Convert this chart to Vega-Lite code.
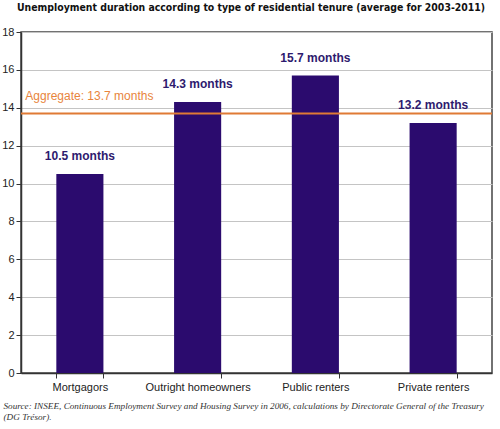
{
  "$schema": "https://vega.github.io/schema/vega-lite/v6.json",
  "autosize": {"type": "none"},
  "width": 471,
  "height": 341,
  "padding": {"left": 21, "top": 32, "right": 8, "bottom": 56},
  "background": "white",
  "title": {
    "text": "Unemployment duration according to type of residential tenure (average for 2003-2011)",
    "anchor": "start",
    "frame": "group",
    "dx": -4,
    "offset": 13,
    "font": "DejaVu Sans Condensed",
    "fontSize": 10.4,
    "fontWeight": "bold",
    "color": "#111111"
  },
  "config": {
    "view": {"stroke": "#444444", "strokeWidth": 1.5},
    "font": "Liberation Sans"
  },
  "data": {
    "values": [
      {"cat": "Mortgagors", "value": 10.5, "label": "10.5 months"},
      {"cat": "Outright homeowners", "value": 14.3, "label": "14.3 months"},
      {"cat": "Public renters", "value": 15.7, "label": "15.7 months"},
      {"cat": "Private renters", "value": 13.2, "label": "13.2 months"}
    ]
  },
  "encoding": {
    "x": {
      "field": "cat",
      "type": "nominal",
      "sort": ["Mortgagors", "Outright homeowners", "Public renters", "Private renters"],
      "scale": {"paddingInner": 0.6, "paddingOuter": 0.3},
      "axis": {
        "title": ["Source: INSEE, Continuous Employment Survey and Housing Survey in 2006, calculations by Directorate General of the Treasury", "(DG Trésor)."],
        "titleFont": "Liberation Serif",
        "titleFontStyle": "italic",
        "titleFontWeight": "normal",
        "titleFontSize": 9.2,
        "titleColor": "#333333",
        "titleAnchor": "start",
        "titleAlign": "left",
        "titleBaseline": "top",
        "titleX": -18,
        "titleY": 28,
        "titleLineHeight": 11,
        "labelAngle": 0,
        "labelFontSize": 11,
        "labelColor": "#222222",
        "labelPadding": 3,
        "tickBand": "extent",
        "tickSize": 5,
        "tickColor": "#333333",
        "domainColor": "#333333",
        "domainWidth": 1.5
      }
    },
    "y": {
      "field": "value",
      "type": "quantitative",
      "scale": {"domain": [0, 18], "nice": false},
      "axis": {
        "title": null,
        "values": [0, 2, 4, 6, 8, 10, 12, 14, 16, 18],
        "labelOverlap": false,
        "labelFontSize": 11,
        "labelColor": "#222222",
        "labelPadding": 2,
        "tickSize": 5,
        "tickColor": "#333333",
        "domainColor": "#333333",
        "domainWidth": 1.5,
        "grid": true,
        "gridColor": "#C4C4C4",
        "gridWidth": 1
      }
    }
  },
  "layer": [
    {
      "mark": {"type": "bar", "color": "#2B0B6E"}
    },
    {
      "mark": {"type": "text", "baseline": "middle", "dy": -18, "fontSize": 12, "fontWeight": "bold", "color": "#2E1A6E", "letterSpacing": -0.5},
      "encoding": {
        "text": {"field": "label"}
      }
    },
    {
      "data": {"values": [{"cat": "Mortgagors", "value": 13.7, "label": "Aggregate: 13.7 months"}]},
      "layer": [
        {
          "mark": {"type": "rule", "color": "#E07A35", "strokeWidth": 2},
          "encoding": {"x": null}
        },
        {
          "mark": {"type": "text", "align": "left", "baseline": "middle", "dx": -31, "dy": -17, "fontSize": 12, "color": "#E8843C", "letterSpacing": -0.5},
          "encoding": {
            "x": {"field": "cat", "type": "nominal", "bandPosition": 0, "sort": ["Mortgagors", "Outright homeowners", "Public renters", "Private renters"]},
            "text": {"field": "label"}
          }
        }
      ]
    }
  ]
}
